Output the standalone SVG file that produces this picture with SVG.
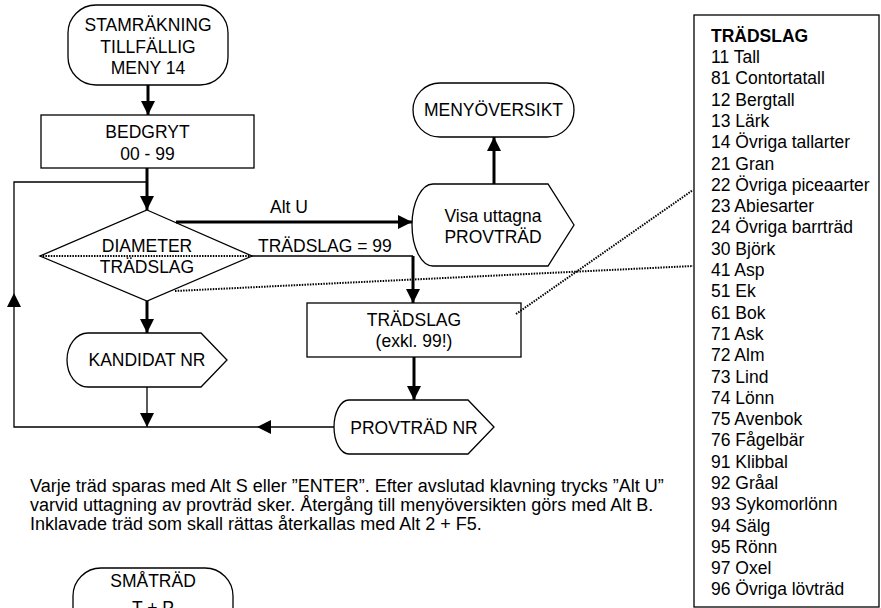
<svg xmlns="http://www.w3.org/2000/svg" width="881" height="608" viewBox="0 0 881 608">
<style>
.t{font-family:"Liberation Sans",Arial,sans-serif;font-size:17.5px;fill:#000}
.p{font-size:18px}
.c{text-anchor:middle}
.b{font-weight:bold}
.sh{fill:#fff;stroke:#000;stroke-width:1.3}
.thick{stroke:#000;stroke-width:3;fill:none}
.thin{stroke:#000;stroke-width:1.3;fill:none}
.dot{stroke:#000;stroke-width:2;stroke-dasharray:1.5 1.2;fill:none}
</style>
<defs>
<marker id="ah" markerWidth="14" markerHeight="14" refX="14" refY="7" orient="auto" markerUnits="userSpaceOnUse"><path d="M0,0 L14,7 L0,14 Z" fill="#000"/></marker>
</defs>
<rect width="881" height="608" fill="#fff"/>

<g id="start">
<rect class="sh" x="68" y="5" width="160" height="80" rx="28" ry="28"/>
<text class="t c" x="148" y="31">STAMRÄKNING</text>
<text class="t c" x="148" y="52.5">TILLFÄLLIG</text>
<text class="t c" x="148" y="74">MENY 14</text>
</g>

<g id="bedgryt">
<rect class="sh" x="41" y="115" width="213" height="53"/>
<text class="t c" x="147.5" y="137.5">BEDGRYT</text>
<text class="t c" x="147.5" y="160">00 - 99</text>
</g>

<g id="diameter">
<polygon class="sh" points="147,210 252,256 147,301 40,256"/>
<text class="t c" x="147" y="252">DIAMETER</text>
<text class="t c" x="147" y="273">TRÄDSLAG</text>
</g>

<g id="kandidat">
<path class="sh" d="M88,333 L201,333 L227,360 L201,387 L88,387 A21,27 0 0 1 88,333 Z"/>
<text class="t c" x="147" y="366">KANDIDAT NR</text>
</g>

<g id="visa">
<path class="sh" d="M433,184 L548,184 L574,225 L548,266 L433,266 A21,41 0 0 1 433,184 Z"/>
<text class="t c" x="493" y="222">Visa uttagna</text>
<text class="t c" x="493" y="243">PROVTRÄD</text>
</g>

<g id="menyoversikt">
<rect class="sh" x="413" y="83" width="161" height="54" rx="27" ry="27"/>
<text class="t c" x="493.5" y="116">MENYÖVERSIKT</text>
</g>

<g id="tradslag">
<rect class="sh" x="307" y="303" width="214" height="54"/>
<text class="t c" x="414" y="325.5">TRÄDSLAG</text>
<text class="t c" x="414" y="347">(exkl. 99!)</text>
</g>

<g id="provtrad">
<path class="sh" d="M349,400 L468,400 L494,427 L468,454 L349,454 A15,27 0 0 1 349,400 Z"/>
<text class="t c" x="414" y="434">PROVTRÄD NR</text>
</g>

<g id="smatrad">
<rect class="sh" x="73" y="568" width="160" height="80" rx="28" ry="28"/>
<text class="t c" x="153" y="587">SMÅTRÄD</text>
<text class="t c" x="153" y="614">T + P</text>
</g>

<g id="tradslag-list">
<rect class="sh" x="694" y="15" width="185" height="592"/>
<text class="t b" x="711" y="42">TRÄDSLAG</text>
<text class="t" x="711" y="63"><tspan x="711">11 Tall</tspan><tspan x="711" dy="21.3">81 Contortatall</tspan><tspan x="711" dy="21.3">12 Bergtall</tspan><tspan x="711" dy="21.3">13 Lärk</tspan><tspan x="711" dy="21.3">14 Övriga tallarter</tspan><tspan x="711" dy="21.3">21 Gran</tspan><tspan x="711" dy="21.3">22 Övriga piceaarter</tspan><tspan x="711" dy="21.3">23 Abiesarter</tspan><tspan x="711" dy="21.3">24 Övriga barrträd</tspan><tspan x="711" dy="21.3">30 Björk</tspan><tspan x="711" dy="21.3">41 Asp</tspan><tspan x="711" dy="21.3">51 Ek</tspan><tspan x="711" dy="21.3">61 Bok</tspan><tspan x="711" dy="21.3">71 Ask</tspan><tspan x="711" dy="21.3">72 Alm</tspan><tspan x="711" dy="21.3">73 Lind</tspan><tspan x="711" dy="21.3">74 Lönn</tspan><tspan x="711" dy="21.3">75 Avenbok</tspan><tspan x="711" dy="21.3">76 Fågelbär</tspan><tspan x="711" dy="21.3">91 Klibbal</tspan><tspan x="711" dy="21.3">92 Gråal</tspan><tspan x="711" dy="21.3">93 Sykomorlönn</tspan><tspan x="711" dy="21.3">94 Sälg</tspan><tspan x="711" dy="21.3">95 Rönn</tspan><tspan x="711" dy="21.3">97 Oxel</tspan><tspan x="711" dy="21.3">96 Övriga lövträd</tspan></text>
</g>

<g id="note">
<text class="t p" x="30" y="492">Varje träd sparas med Alt S eller ”ENTER”. Efter avslutad klavning trycks ”Alt U”</text>
<text class="t p" x="30" y="511">varvid uttagning av provträd sker. Återgång till menyöversikten görs med Alt B.</text>
<text class="t p" x="30" y="530">Inklavade träd som skall rättas återkallas med Alt 2 + F5.</text>
</g>

<g id="connectors">
<path class="thick" d="M148,85 L148,115" marker-end="url(#ah)"/>
<path class="thick" d="M147,168 L147,210" marker-end="url(#ah)"/>
<path class="thin" d="M147,182 L14,182 L14,293"/>
<path class="thin" d="M14,310 L14,293" marker-end="url(#ah)"/>
<path class="thin" d="M14,310 L14,427 L257,427"/>
<path class="thin" d="M334,427 L257,427" marker-end="url(#ah)"/>
<path class="thick" d="M147,301 L147,333" marker-end="url(#ah)"/>
<path class="thin" d="M147,387 L147,427" marker-end="url(#ah)"/>
<path class="thick" d="M176,222 L412,222" marker-end="url(#ah)"/>
<text class="t" x="270" y="213">Alt U</text>
<path class="thin" d="M252,256 L413,256"/>
<text class="t" x="258" y="252">TRÄDSLAG = 99</text>
<path class="thick" d="M413,256 L413,303" marker-end="url(#ah)"/>
<path class="thick" d="M494,184 L494,137" marker-end="url(#ah)"/>
<path class="thick" d="M414,357 L414,400" marker-end="url(#ah)"/>
<path class="dot" d="M40,256 L252,256"/>
<path class="dot" d="M175,291 L693,266"/>
<path class="dot" d="M516,314 L693,190"/>
</g>
</svg>
